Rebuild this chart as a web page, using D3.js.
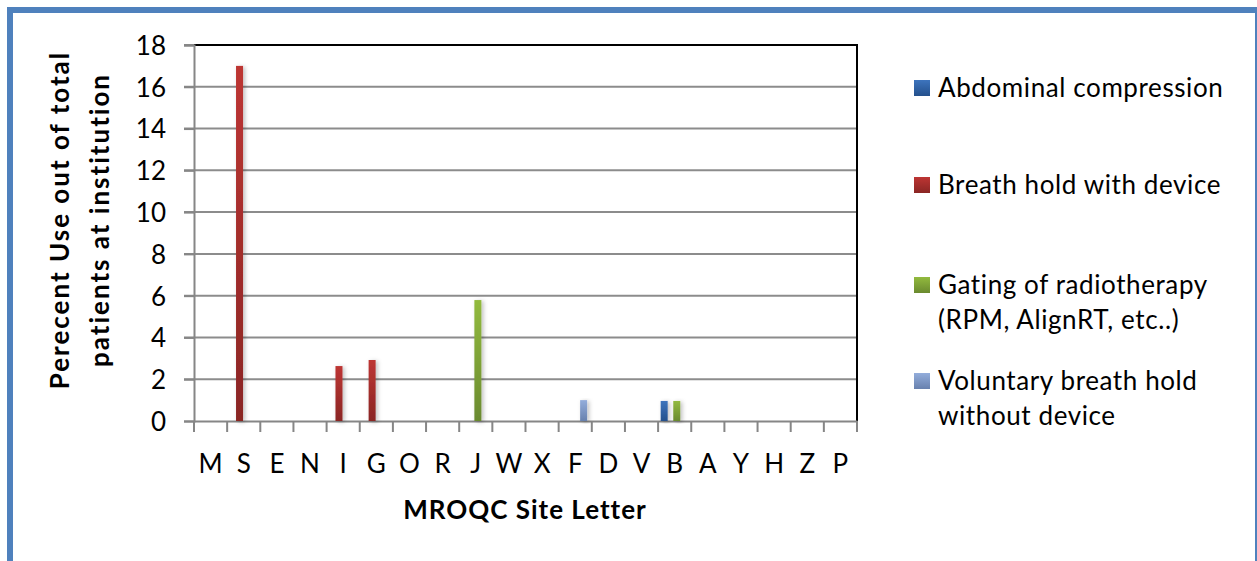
<!DOCTYPE html>
<html>
<head>
<meta charset="utf-8">
<script src="https://cdn.jsdelivr.net/npm/d3@7"></script>
<style>
  body { margin: 0; background: #fff; }
  text { font-family: Lato, "Open Sans", sans-serif; fill: #000; }
</style>
</head>
<body>
<div id="chart"></div>
<script>
// Data
var sites = ["M", "S", "E", "N", "I", "G", "O", "R", "J", "W", "X", "F", "D", "V", "B", "A", "Y", "H", "Z", "P"];
var seriesNames = ["Abdominal compression", "Breath hold with device", "Gating of radiotherapy", "Voluntary breath hold"];
var abdominal = [0, 0, 0, 0, 0, 0, 0, 0, 0, 0, 0, 0, 0, 0, 0.96, 0, 0, 0, 0, 0];
var breathHoldDevice = [0, 17, 0, 0, 2.63, 2.92, 0, 0, 0, 0, 0, 0, 0, 0, 0, 0, 0, 0, 0, 0];
var gating = [0, 0, 0, 0, 0, 0, 0, 0, 5.79, 0, 0, 0, 0, 0, 0.96, 0, 0, 0, 0, 0];
var voluntary = [0, 0, 0, 0, 0, 0, 0, 0, 0, 0, 0, 1.0, 0, 0, 0, 0, 0, 0, 0, 0];
var yTicks = [0, 2, 4, 6, 8, 10, 12, 14, 16, 18];
var legendLines = [
  ["Abdominal compression"],
  ["Breath hold with device"],
  ["Gating of radiotherapy", "(RPM, AlignRT, etc..)"],
  ["Voluntary breath hold", "without device"]
];

var seriesValues = [abdominal, breathHoldDevice, gating, voluntary];
var colors = [
  ["#3d74bd", "#24508c"],
  ["#bd3533", "#8a2624"],
  ["#92ba3e", "#6a8a2f"],
  ["#93addb", "#6881ae"]
];

var width = 1257, height = 561;

var svg = d3.select("#chart")
  .append("svg")
  .attr("width", width)
  .attr("height", height);

var defs = svg.append("defs");
colors.forEach(function(c, i) {
  var g = defs.append("linearGradient")
    .attr("id", "grad" + i)
    .attr("x1", 0).attr("y1", 0).attr("x2", 0).attr("y2", 1);
  g.append("stop").attr("offset", "0%").attr("stop-color", c[0]);
  g.append("stop").attr("offset", "100%").attr("stop-color", c[1]);
});
var shadow = defs.append("filter").attr("id", "shadow")
  .attr("x", "-50%").attr("y", "-10%").attr("width", "250%").attr("height", "120%");
shadow.append("feDropShadow")
  .attr("dx", 2).attr("dy", 1)
  .attr("stdDeviation", 2)
  .attr("flood-color", "#000")
  .attr("flood-opacity", 0.25);

// outer frame
svg.append("rect")
  .attr("x", 10).attr("y", 10)
  .attr("width", 1248).attr("height", 600)
  .attr("fill", "none")
  .attr("stroke", "#4f81bd")
  .attr("stroke-width", 6);

// scales
var x = d3.scaleBand()
  .domain(sites)
  .range([194, 857]);

var x1 = d3.scaleBand()
  .domain(d3.range(seriesNames.length))
  .range([-14, 11.2]);

var y = d3.scaleLinear()
  .domain([0, 18])
  .range([421, 45]);

// gridlines
svg.append("g")
  .selectAll("line")
  .data(yTicks.slice(1))
  .enter().append("line")
  .attr("x1", 184).attr("x2", 857)
  .attr("y1", function(d) { return y(d); })
  .attr("y2", function(d) { return y(d); })
  .attr("stroke", "#8c8c8c")
  .attr("stroke-width", 2);

// top/right border of plot
svg.append("path")
  .attr("d", "M194," + y(18) + "H857V" + y(0))
  .attr("fill", "none")
  .attr("stroke", "#000")
  .attr("stroke-width", 2);

// y axis
var yAxis = svg.append("g")
  .attr("transform", "translate(194,0)")
  .call(d3.axisLeft(y).tickValues(yTicks).tickSize(10).tickPadding(18).tickFormat(d3.format("d")));
yAxis.select(".domain").attr("stroke", "#868686").attr("stroke-width", 2);
yAxis.selectAll(".tick line").attr("stroke", "#868686").attr("stroke-width", 2);
yAxis.selectAll("text").style("font-size", "26px").attr("fill", "#000").attr("dy", "0.36em");

// x axis
var xAxis = svg.append("g")
  .attr("transform", "translate(0," + y(0) + ")")
  .call(d3.axisBottom(x).tickSize(0).tickPadding(34));
xAxis.select(".domain").attr("stroke", "#868686").attr("stroke-width", 2);
xAxis.selectAll("text").style("font-size", "26px").attr("fill", "#000");

// x tick marks between categories
svg.append("g")
  .selectAll("line")
  .data(sites.concat(["end"]))
  .enter().append("line")
  .attr("x1", function(d, i) { return x.range()[0] + i * x.step(); })
  .attr("x2", function(d, i) { return x.range()[0] + i * x.step(); })
  .attr("y1", y(0)).attr("y2", y(0) + 11)
  .attr("stroke", "#868686")
  .attr("stroke-width", 2);

// bars
seriesValues.forEach(function(vals, s) {
  svg.append("g")
    .attr("class", "series" + s)
    .selectAll("rect")
    .data(vals.map(function(v, i) { return { site: sites[i], value: v }; })
      .filter(function(d) { return d.value > 0; }))
    .enter().append("rect")
    .attr("x", function(d) { return x(d.site) + x.bandwidth() / 2 + x1(s); })
    .attr("width", 7)
    .attr("y", function(d) { return y(d.value); })
    .attr("height", function(d) { return y(0) - y(d.value); })
    .attr("fill", "url(#grad" + s + ")")
    .attr("filter", "url(#shadow)");
});

// axis titles
svg.append("text")
  .attr("x", 525).attr("y", 519)
  .attr("text-anchor", "middle")
  .style("font-size", "26px")
  .style("font-weight", "bold")
  .style("letter-spacing", "1px")
  .text("MROQC Site Letter");

var yTitle = svg.append("text")
  .attr("transform", "translate(69,220) rotate(-90)")
  .attr("text-anchor", "middle")
  .style("font-size", "26px")
  .style("font-weight", "bold")
  .style("letter-spacing", "2px");
yTitle.append("tspan").attr("x", 0).attr("y", 0).text("Perecent Use out of total");
yTitle.append("tspan").attr("x", 0).attr("y", 40).text("patients at institution");

// legend
var legendY = [88, 185, 285, 381];
var legend = svg.append("g");
legendLines.forEach(function(lines, i) {
  legend.append("rect")
    .attr("x", 914).attr("y", legendY[i] - 8)
    .attr("width", 16).attr("height", 16)
    .attr("fill", "url(#grad" + i + ")");
  var t = legend.append("text")
    .attr("x", 938)
    .attr("y", legendY[i] + 9)
    .style("font-size", "26px")
    .style("letter-spacing", "0.6px");
  lines.forEach(function(line, j) {
    t.append("tspan").attr("x", 938).attr("dy", j === 0 ? 0 : 35).text(line);
  });
});
</script>
</body>
</html>
